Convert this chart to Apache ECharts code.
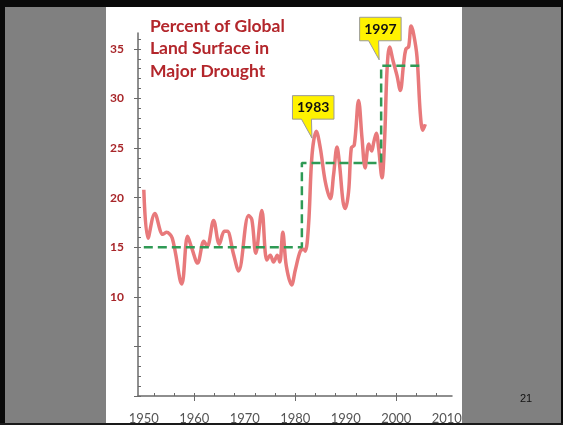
<!DOCTYPE html>
<html>
<head>
<meta charset="utf-8">
<title>Percent of Global Land Surface in Major Drought</title>
<script src="https://cdn.jsdelivr.net/npm/echarts@6/dist/echarts.min.js"></script>
<style>
  html, body { margin: 0; padding: 0; background: #808080; }
  #chart { width: 563px; height: 425px; }
</style>
</head>
<body>
<div id="chart"></div>
<script>
// Drought extent (% of global land area), read at turning points of the smoothed curve
const years = [
  1950.0, 1950.83, 1952.18, 1953.76, 1954.46, 1955.64, 1957.52, 1958.67, 1959.5, 1960.65,
  1961.88, 1962.57, 1963.82, 1964.95, 1965.94, 1966.53, 1967.72, 1968.77, 1970.75, 1971.39,
  1972.18, 1973.37, 1974.36, 1975.05, 1975.7, 1976.44, 1976.93, 1977.52, 1978.22, 1979.27,
  1980.0, 1980.99, 1981.64, 1981.98, 1982.63, 1983.31, 1984.16, 1984.95, 1985.94, 1986.93,
  1987.58, 1988.26, 1988.77, 1989.45, 1989.9, 1990.55, 1991.09, 1991.68, 1992.53, 1993.21,
  1993.82, 1994.55, 1995.11, 1995.54, 1996.04, 1996.5, 1997.17, 1997.68, 1998.16, 1998.67,
  1999.35, 2000.14, 2000.79, 2001.45, 2001.92, 2002.44, 2002.93, 2003.43, 2004.1, 2004.75,
  2005.25, 2005.74
];
const drought = [
  20.8, 15.9, 18.4, 16.3, 16.5, 15.9, 11.3, 16.1, 14.9, 13.4,
  15.6, 15.1, 17.7, 15.3, 16.6, 16.6, 14.4, 12.6, 18.2, 17.8,
  14.4, 18.7, 13.7, 14.2, 13.5, 14.2, 13.5, 16.5, 13.1, 11.2,
  12.7, 14.6, 14.8, 14.6, 17.3, 24.3, 26.7, 25.0, 21.6, 19.9,
  22.3, 25.1, 23.3, 19.6, 18.9, 20.6, 25.0, 25.3, 29.8, 26.0,
  23.0, 25.4, 24.7, 25.6, 26.5, 25.0, 22.0, 25.8, 32.8, 35.2,
  33.8, 32.3, 30.8, 33.5, 35.0, 35.2, 37.3, 36.5, 34.2, 28.5,
  26.8, 27.4
];

// Regime means shown as a dashed step line
const stepYears = [1950, 1981.3, 1997, 2005.3];
const stepLevels = [15, 23.5, 33.3, 33.3];

// Axis ticks and labels
const xLabelYears = [1950, 1960, 1970, 1980, 1990, 2000, 2010];
const xMinorTicks = [1952, 1956, 1960, 1964, 1968, 1972, 1976, 1980, 1984, 1988, 1992, 1996, 2000, 2004, 2008];
const xMajorTicks = [1960, 1980, 2000];
const yLabelValues = [10, 15, 20, 25, 30, 35];
const yMinorTicks = Array.from({ length: 37 }, (_, i) => i);
const yMajorTicks = [0, 5, 10, 15, 20, 25, 30, 35];

// Year flags pointing at the curve
const callouts = [
  { text: '1983', at: [1983.3, 26.0] },
  { text: '1997', at: [1996.6, 33.9] }
];

const titleLines = ['Percent of Global', 'Land Surface in', 'Major Drought'];

const W = 563, H = 425;
const axisColor = '#6a6a6a';
const chart = echarts.init(document.getElementById('chart'), null, { renderer: 'canvas' });

function frameGraphics() {
  return [
    { type: 'rect', id: 'panel', z: -10, shape: { x: 106, y: 0, width: 356, height: H }, style: { fill: '#ffffff' } },
    { type: 'rect', id: 'topbar', z: 100, shape: { x: 0, y: 0, width: W, height: 7 }, style: { fill: '#0a0a0a' } },
    { type: 'rect', id: 'leftbar', z: 100, shape: { x: 0, y: 0, width: 5, height: H }, style: { fill: '#0a0a0a' } },
    { type: 'rect', id: 'rightbar', z: 100, shape: { x: W - 2, y: 0, width: 2, height: H }, style: { fill: '#0a0a0a' } },
    { type: 'rect', id: 'bottombar', z: 100, shape: { x: 0, y: 423, width: W, height: 2 }, style: { fill: '#1a1a1a' } },
    { type: 'text', id: 'pagenum', z: 100, x: 526, y: 399,
      style: { text: '21', fill: '#111', font: '11px "Liberation Sans", Arial, sans-serif', textAlign: 'center', textVerticalAlign: 'middle' } }
  ];
}

const option = {
  animation: false,
  backgroundColor: '#808080',
  title: {
    text: titleLines.join('\n'),
    left: 150,
    top: 15,
    padding: 0,
    textStyle: {
      fontFamily: 'Lato, "DejaVu Sans", sans-serif',
      fontWeight: 'bold',
      fontSize: 17.5,
      lineHeight: 22.5,
      color: '#b3262b'
    }
  },
  grid: { left: 138, right: 111, top: 33, bottom: 26.5, containLabel: false },
  xAxis: [
    {
      type: 'value', position: 'bottom', min: 1948.85, max: 2011.03,
      splitLine: { show: false },
      axisLine: { show: true, lineStyle: { color: axisColor, width: 1.5 } },
      axisTick: { show: true, inside: true, length: 3, customValues: xMinorTicks, lineStyle: { color: axisColor, width: 1 } },
      axisLabel: {
        customValues: xLabelYears, margin: 16,
        color: '#555', fontFamily: 'Lato, sans-serif', fontSize: 13,
        formatter: v => String(Math.round(v))
      }
    },
    {
      type: 'value', position: 'bottom', min: 1948.85, max: 2011.03,
      splitLine: { show: false },
      axisLine: { show: false },
      axisTick: { show: true, inside: false, length: 5, customValues: xMajorTicks, lineStyle: { color: axisColor, width: 1 } },
      axisLabel: { show: false }
    }
  ],
  yAxis: [
    {
      type: 'value', position: 'left', min: 0, max: 36.6,
      splitLine: { show: false },
      axisLine: { show: true, lineStyle: { color: axisColor, width: 1.5 } },
      axisTick: { show: true, inside: true, length: 3, customValues: yMinorTicks, lineStyle: { color: axisColor, width: 1 } },
      axisLabel: {
        customValues: yLabelValues, margin: 14,
        color: '#a8262a', fontFamily: 'Lato, sans-serif', fontWeight: 'bold', fontSize: 12
      }
    },
    {
      type: 'value', position: 'left', min: 0, max: 36.6,
      splitLine: { show: false },
      axisLine: { show: false },
      axisTick: { show: true, inside: false, length: 4, customValues: yMajorTicks, lineStyle: { color: axisColor, width: 1 } },
      axisLabel: { show: false }
    }
  ],
  series: [
    {
      name: 'Drought area',
      type: 'line',
      xAxisIndex: 0, yAxisIndex: 0,
      data: years.map((y, i) => [y, drought[i]]),
      smooth: 0.35,
      symbol: 'none',
      clip: false,
      lineStyle: { color: '#e8797b', width: 3.5 },
      z: 3
    },
    {
      name: 'Regime mean',
      type: 'line',
      xAxisIndex: 0, yAxisIndex: 0,
      step: 'end',
      data: stepYears.map((y, i) => [y, stepLevels[i]]),
      symbol: 'none',
      clip: false,
      lineStyle: { color: '#2f9a55', width: 2.5, type: [9, 5] },
      z: 4
    }
  ],
  graphic: frameGraphics()
};

chart.setOption(option);

// Flags: box with a tail whose tip sits on the annotated point
function calloutGraphics() {
  const out = [];
  callouts.forEach((c, i) => {
    const p = chart.convertToPixel({ xAxisIndex: 0, yAxisIndex: 0 }, c.at);
    const L = p[0] - 19.5, R = L + 41.5, B = p[1] - 19, T = B - 23.5;
    out.push({
      type: 'polygon', id: 'flag' + i, z: 20,
      shape: { points: [[L, T], [R, T], [R, B], [L + 19, B], [p[0], p[1]], [L + 9, B], [L, B]] },
      style: { fill: '#fff200', stroke: '#9a9a9a', lineWidth: 1 }
    });
    out.push({
      type: 'text', id: 'flagText' + i, z: 21,
      x: (L + R) / 2, y: (T + B) / 2 + 0.5,
      style: { text: c.text, fill: '#111', font: 'bold 14px Lato, sans-serif', textAlign: 'center', textVerticalAlign: 'middle' }
    });
  });
  return out;
}

chart.setOption({ graphic: frameGraphics().concat(calloutGraphics()) });
</script>
</body>
</html>
